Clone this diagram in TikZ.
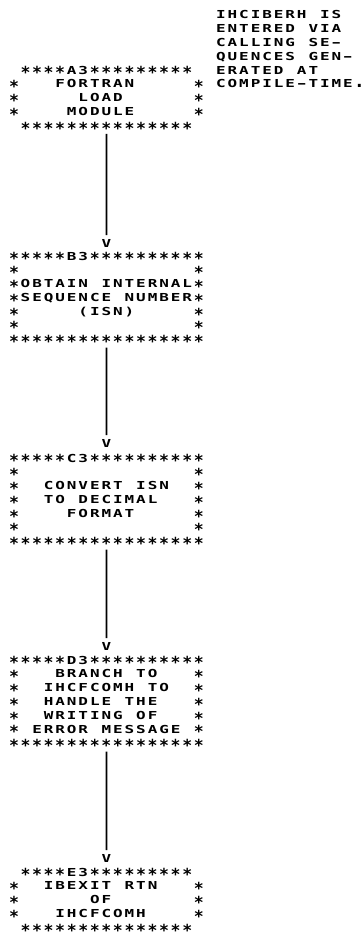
\documentclass[tikz,border=0pt]{standalone}
\usepackage{fontspec}
\usepackage{graphicx}
\newfontfamily\prnfam{DejaVu Sans Mono}
\newcommand\prnfont{\prnfam\bfseries\fontsize{11pt}{13.85pt}\selectfont}
\newdimen\prncw \prncw=11.55pt
\newcommand\prnstar{\raisebox{-4.6pt}{\scalebox{1.5}{*}}}
\def\prnchar#1{\ifx#1_\hbox to\prncw{}\else\ifx#1*\hbox to\prncw{\hss\smash{\prnstar}\hss}\else\ifx#1-\hbox to\prncw{\hss\smash{\scalebox{2.1}[1]{-}}\hss}\else\ifx#1.\hbox to\prncw{\hss\smash{\scalebox{1.6}{.}}\hss}\else\hbox to\prncw{\hss\smash{\scalebox{1.45}[1]{#1}}\hss}\fi\fi\fi\fi}
\def\prnloop#1{\ifx#1\relax\else\prnchar#1\expandafter\prnloop\fi}
\def\prnline#1{\hbox{\vrule height10.925pt depth2.925pt width0pt\prnloop#1\relax}}
\begin{document}
\begin{tikzpicture}[x=1pt,y=1pt,
  pbox/.style={inner sep=0pt, outer sep=0pt, anchor=north west, font=\prnfont},
  vmark/.style={inner sep=0pt, outer sep=0pt, font=\prnfont},
  conn/.style={line width=1.8pt, shorten <=1.5pt, shorten >=1pt}]
\useasboundingbox (0,0) rectangle (364,-940);
% comment
\node[pbox] (note) at (215.125,-7.675) {\vbox{\offinterlineskip
\prnline{IHCIBERH_IS}
\prnline{ENTERED_VIA}
\prnline{CALLING_SE-}
\prnline{QUENCES_GEN-}
\prnline{ERATED_AT}
\prnline{COMPILE-TIME.}}};
% A3
\node[pbox] (a3) at (8.225,-63.075) {\vbox{\offinterlineskip
\prnline{_****A3*********_}
\prnline{*___FORTRAN_____*}
\prnline{*_____LOAD______*}
\prnline{*____MODULE_____*}
\prnline{_***************_}}};
% B3
\node[pbox] (b3) at (8.225,-249.075) {\vbox{\offinterlineskip
\prnline{*****B3**********}
\prnline{*_______________*}
\prnline{*OBTAIN_INTERNAL*}
\prnline{*SEQUENCE_NUMBER*}
\prnline{*_____(ISN)_____*}
\prnline{*_______________*}
\prnline{*****************}}};
% C3
\node[pbox] (c3) at (8.225,-451.075) {\vbox{\offinterlineskip
\prnline{*****C3**********}
\prnline{*_______________*}
\prnline{*__CONVERT_ISN__*}
\prnline{*__TO_DECIMAL___*}
\prnline{*____FORMAT_____*}
\prnline{*_______________*}
\prnline{*****************}}};
% D3
\node[pbox] (d3) at (8.225,-653.075) {\vbox{\offinterlineskip
\prnline{*****D3**********}
\prnline{*___BRANCH_TO___*}
\prnline{*__IHCFCOMH_TO__*}
\prnline{*__HANDLE_THE___*}
\prnline{*__WRITING_OF___*}
\prnline{*_ERROR_MESSAGE_*}
\prnline{*****************}}};
% E3
\node[pbox] (e3) at (8.225,-865.075) {\vbox{\offinterlineskip
\prnline{_****E3*********_}
\prnline{*__IBEXIT_RTN___*}
\prnline{*______OF_______*}
\prnline{*___IHCFCOMH____*}
\prnline{_***************_}}};
% arrowheads (printed V)
\node[vmark] (v1) at (106.4,-243) {\prnline{V}};
\node[vmark] (v2) at (106.4,-443) {\prnline{V}};
\node[vmark] (v3) at (106.4,-646) {\prnline{V}};
\node[vmark] (v4) at (106.4,-858) {\prnline{V}};
% connectors
\draw[conn] (a3.south) -- (v1.north);
\draw[conn] (b3.south) -- (v2.north);
\draw[conn] (c3.south) -- (v3.north);
\draw[conn] (d3.south) -- (v4.north);
\end{tikzpicture}
\end{document}
